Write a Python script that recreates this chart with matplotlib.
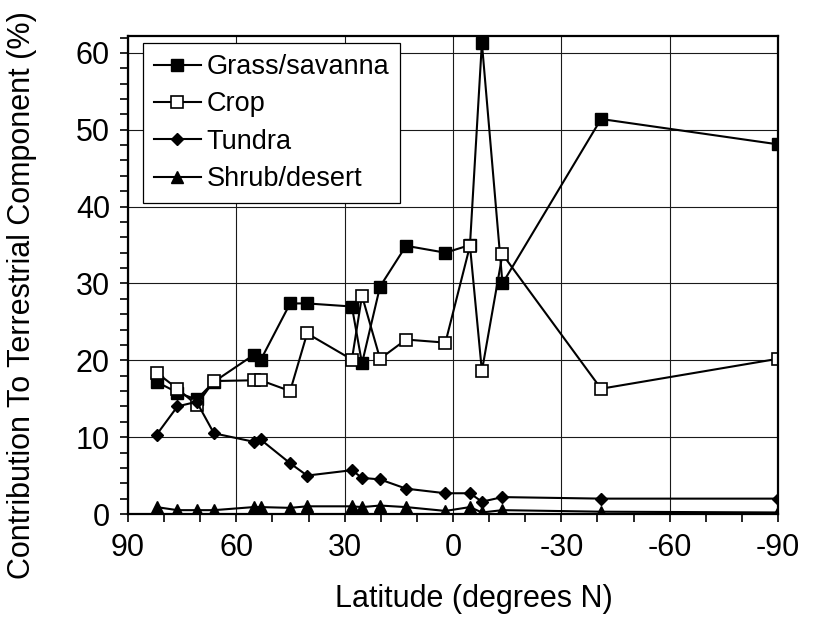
import numpy as np
import matplotlib.pyplot as plt
from matplotlib.ticker import MultipleLocator

plt.rcParams['font.family'] = ['Liberation Sans', 'DejaVu Sans']

# latitude of each zonal band (degrees N)
lat = [82.1, 76.3, 71.0, 66.2, 55.2, 53.3, 45.1, 40.4, 28.0, 25.2, 20.2,
       13.0, 2.1, -4.7, -8.0, -13.7, -41.0, -90.0]

# contribution to terrestrial component (%)
grass = [17.2, 15.8, 14.9, 17.2, 20.7, 20.0, 27.4, 27.4, 27.0, 19.6, 29.6,
         34.9, 34.0, 35.0, 61.3, 30.0, 51.4, 48.1]
crop = [18.4, 16.3, 14.2, 17.3, 17.4, 17.4, 16.0, 23.5, 20.1, 28.4, 20.2,
        22.7, 22.3, 34.9, 18.6, 33.8, 16.3, 20.2]
tundra = [10.3, 14.0, 14.6, 10.5, 9.4, 9.7, 6.6, 5.0, 5.7, 4.7, 4.5,
          3.3, 2.7, 2.7, 1.6, 2.2, 2.0, 2.0]
shrub = [0.9, 0.5, 0.5, 0.5, 0.9, 0.9, 0.8, 1.0, 1.0, 0.9, 1.1,
         0.9, 0.4, 0.9, 0.2, 0.5, 0.3, 0.2]

xticks = [90, 60, 30, 0, -30, -60, -90]

fig = plt.figure(figsize=(8.25, 6.28), dpi=100)
ax = fig.add_axes([128 / 825, 1 - 514 / 628, 650 / 825, 478 / 628])

lw = 1.5
ax.plot(lat, grass, color='k', lw=lw, marker='s', ms=8, mfc='k', mec='k',
        label='Grass/savanna')
ax.plot(lat, crop, color='k', lw=lw, marker='s', ms=8, mfc='white', mec='k',
        mew=1.2, label='Crop')
ax.plot(lat, tundra, color='k', lw=lw, marker='D', ms=6.2, mfc='k', mec='k',
        label='Tundra')
ax.plot(lat, shrub, color='k', lw=lw, marker='^', ms=9, mfc='k', mec='k',
        label='Shrub/desert')

ax.set_xlim(90, -90)
ax.set_ylim(0, 62.2)
ax.set_xticks(xticks)
ax.set_xticklabels([str(t) for t in xticks])
ax.xaxis.set_minor_locator(MultipleLocator(10))
ax.yaxis.set_major_locator(MultipleLocator(10))
ax.yaxis.set_minor_locator(MultipleLocator(2))

ax.grid(True, which='major', color='0.1', lw=0.8)
ax.set_axisbelow(True)
for s in ax.spines.values():
    s.set_linewidth(1.6)
    s.set_color('k')

ax.tick_params(which='both', direction='out', length=6, width=1.2,
               labelsize=22, top=False, right=False)
ax.tick_params(axis='y', pad=7)
ax.tick_params(axis='x', pad=8)

ax.set_xlabel('Latitude (degrees N)', fontsize=22)
ax.xaxis.set_label_coords(0.532, -0.146)
ax.set_ylabel('Contribution To Terrestrial Component (%)', fontsize=22)
ax.yaxis.set_label_coords(-0.14, 0.458)

leg = ax.legend(loc='upper left', bbox_to_anchor=(0.023, 0.985),
                borderaxespad=0, fontsize=19.5, handlelength=1.75,
                handletextpad=0.2, labelspacing=0.42, borderpad=0.4,
                fancybox=False, framealpha=1, edgecolor='k')
leg.get_frame().set_linewidth(0.9)

fig.savefig('out.png', dpi=100)
